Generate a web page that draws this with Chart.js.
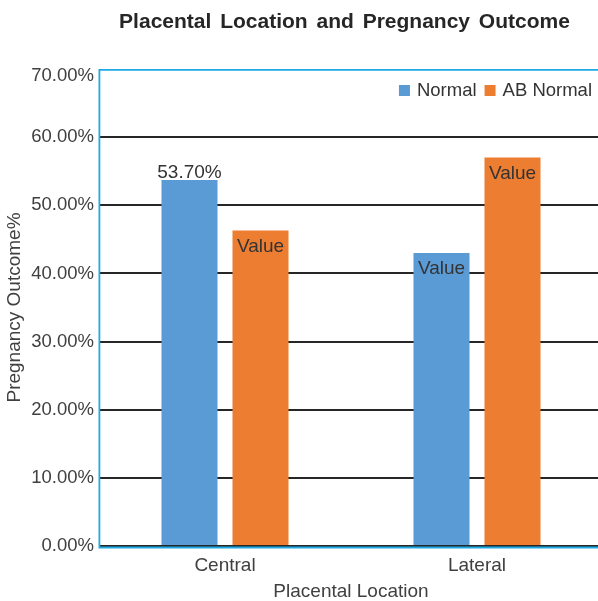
<!DOCTYPE html>
<html><head><meta charset="utf-8">
<script src="https://cdn.jsdelivr.net/npm/chart.js@4/dist/chart.umd.min.js"></script>
<style>html,body{margin:0;padding:0;background:#fff;overflow:hidden}</style>
</head><body><canvas id="c" width="598" height="601"></canvas>
<script>
const categories = ['Central', 'Lateral'];
const seriesNames = ['Normal', 'AB Normal'];
const normalValues = [53.7, 43.0];
const abNormalValues = [46.3, 57.0];
const normalLabels = ['53.70%', 'Value'];
const abNormalLabels = ['Value', 'Value'];
const yTickValues = [0, 10, 20, 30, 40, 50, 60, 70];
const yTickLabels = ['0.00%', '10.00%', '20.00%', '30.00%', '40.00%', '50.00%', '60.00%', '70.00%'];
const chartTitle = 'Placental Location and Pregnancy Outcome';
const xTitle = 'Placental Location';
const yTitle = 'Pregnancy Outcome%';

const FONT = '"Liberation Sans", Arial, Helvetica, sans-serif';
const TEXT = '#404040';
const BLUE = '#5b9bd5', ORANGE = '#ed7d31';

const titlePlugin = {
  id: 'customTitle',
  afterDraw(chart) {
    const ctx = chart.ctx;
    ctx.save();
    ctx.font = 'bold 21px ' + FONT;
    try { ctx.wordSpacing = '3px'; } catch (e) {}
    ctx.fillStyle = '#262626';
    ctx.textAlign = 'center';
    ctx.textBaseline = 'alphabetic';
    ctx.fillText(chartTitle, 344.5, 28);
    ctx.restore();
  }
};

// widen plot area so it runs a little past the right edge of the canvas
const extendPlugin = {
  id: 'extendRight',
  afterLayout(chart) {
    const extra = 5;
    const ca = chart.chartArea;
    ca.right += extra; ca.width += extra;
    const x = chart.scales.x, y = chart.scales.y;
    x.right += extra; x.width += extra;
    x.configure();
  }
};

const framePlugin = {
  id: 'frame',
  afterDatasetsDraw(chart) {
    const ctx = chart.ctx, ca = chart.chartArea;
    ctx.save();
    ctx.strokeStyle = '#1fa9e3';
    ctx.lineWidth = 1.8;
    ctx.beginPath();
    ctx.moveTo(chart.width + 2, ca.top + 0.9);
    ctx.lineTo(ca.left + 0.4, ca.top + 0.9);
    ctx.lineTo(ca.left + 0.4, ca.bottom + 1.5);
    ctx.lineTo(chart.width + 2, ca.bottom + 1.5);
    ctx.stroke();
    ctx.restore();
  }
};

const legendPlugin = {
  id: 'insideLegend',
  afterDatasetsDraw(chart) {
    const ctx = chart.ctx, ca = chart.chartArea;
    ctx.save();
    ctx.font = '18.5px ' + FONT;
    ctx.textBaseline = 'alphabetic';
    ctx.textAlign = 'left';
    const baseline = ca.top + 27;
    let x = ca.right - 11;
    const ds = chart.data.datasets;
    for (let k = ds.length - 1; k >= 0; k--) {
      const w = ctx.measureText(ds[k].label).width;
      x -= w;
      ctx.fillStyle = '#333333';
      ctx.fillText(ds[k].label, x, baseline);
      x -= 7 + 11;
      ctx.fillStyle = ds[k].backgroundColor;
      ctx.fillRect(x, baseline - 11, 11, 11);
      x -= 8;
    }
    ctx.restore();
  }
};

const barLabelPlugin = {
  id: 'barLabels',
  afterDatasetsDraw(chart) {
    const ctx = chart.ctx;
    ctx.save();
    ctx.font = '19px ' + FONT;
    ctx.fillStyle = '#333333';
    ctx.textAlign = 'center';
    ctx.textBaseline = 'alphabetic';
    chart.data.datasets.forEach((ds, di) => {
      const meta = chart.getDatasetMeta(di);
      meta.data.forEach((bar, i) => {
        const txt = ds.valueLabels[i];
        const inside = txt === 'Value';
        const y = inside ? bar.y + 21.5 : bar.y - 2;
        ctx.fillText(txt, bar.x, y);
      });
    });
    ctx.restore();
  }
};

new Chart(document.getElementById('c'), {
  type: 'bar',
  data: {
    labels: categories,
    datasets: [
      { label: seriesNames[0], data: normalValues, valueLabels: normalLabels, backgroundColor: BLUE,
        barPercentage: 0.789, categoryPercentage: 0.5635 },
      { label: seriesNames[1], data: abNormalValues, valueLabels: abNormalLabels, backgroundColor: ORANGE,
        barPercentage: 0.789, categoryPercentage: 0.5635 }
    ]
  },
  options: {
    responsive: false,
    animation: false,
    devicePixelRatio: 1,
    layout: { padding: { top: 69, right: 0, left: 0, bottom: 0 } },
    plugins: {
      legend: { display: false },
      title: { display: false },
      tooltip: { enabled: false }
    },
    scales: {
      x: {
        type: 'category',
        grid: { display: false, drawTicks: false },
        border: { display: false },
        ticks: { color: TEXT, font: { size: 19, family: FONT }, padding: 8 },
        title: { display: true, text: xTitle, color: TEXT, font: { size: 19, family: FONT }, padding: { top: 0, bottom: -2 } },
        afterFit(s) { s.height = 55; }
      },
      y: {
        min: 0, max: 70,
        afterBuildTicks(s) { s.ticks = yTickValues.map(v => ({ value: v })); },
        grid: {
          color: c => (c.tick && c.tick.value === 70) ? 'rgba(0,0,0,0)' : '#262626',
          lineWidth: 2, drawTicks: false
        },
        border: { display: false },
        ticks: {
          color: TEXT, padding: 5,
          font: c => (c.index === yTickValues.length - 1)
            ? { size: 18.5, family: FONT, lineHeight: 0.72 }
            : { size: 18.5, family: FONT },
          callback: (v, i) => (i === yTickValues.length - 1) ? ['', yTickLabels[i]] : yTickLabels[i]
        },
        title: { display: true, text: yTitle, color: TEXT, font: { size: 19, family: FONT }, padding: { top: 3, bottom: 0 } },
        afterFit(s) { s.width = 99; }
      }
    }
  },
  plugins: [extendPlugin, framePlugin, legendPlugin, barLabelPlugin, titlePlugin]
});
</script>
</body></html>
